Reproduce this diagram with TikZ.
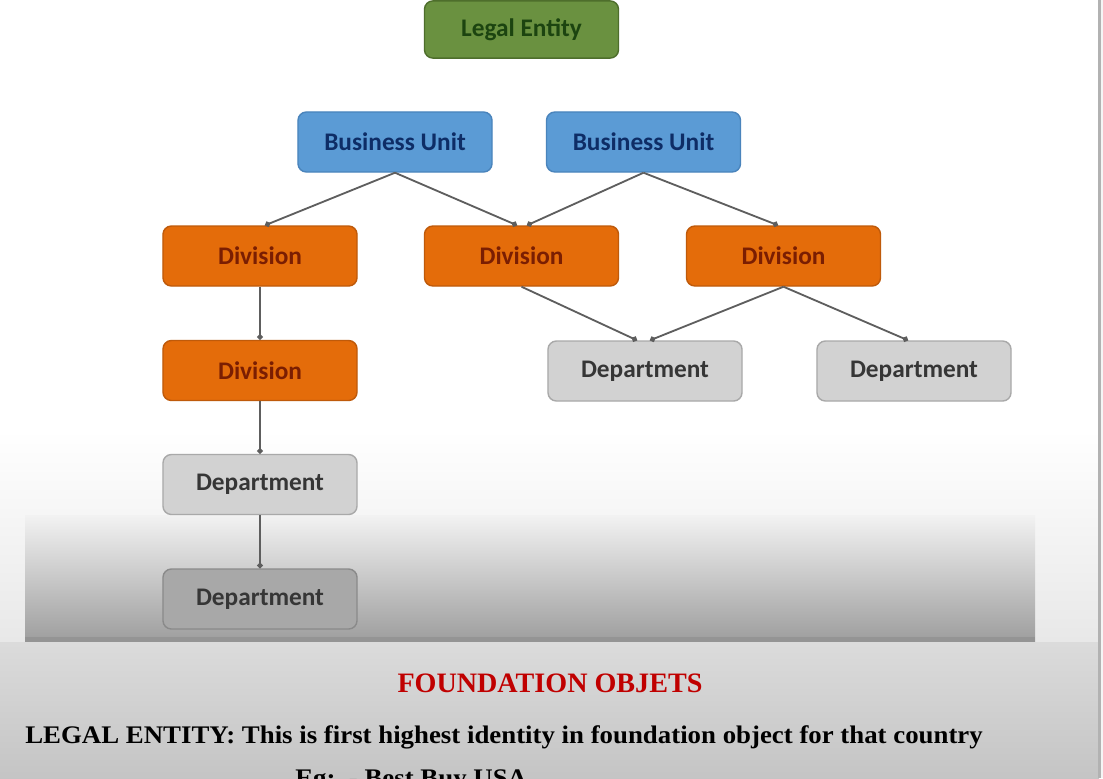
\documentclass[tikz,border=0pt]{standalone}
\usepackage{fontspec}
\setmainfont{Carlito}
\newfontfamily\slab{Liberation Serif}
\usetikzlibrary{arrows.meta,calc}
\definecolor{gfill}{HTML}{6A9140}
\definecolor{gline}{HTML}{4E6E2C}
\definecolor{gtext}{HTML}{1C4410}
\definecolor{bfill}{HTML}{5B9BD5}
\definecolor{bline}{HTML}{4A84BC}
\definecolor{btext}{HTML}{0E2D66}
\definecolor{ofill}{HTML}{E46C0A}
\definecolor{oline}{HTML}{BF5A0A}
\definecolor{otext}{HTML}{7A1E02}
\definecolor{dfill}{HTML}{D2D2D2}
\definecolor{dline}{HTML}{A9A9A9}
\definecolor{dtext}{HTML}{363636}
\definecolor{dkfill}{HTML}{A8A8A8}
\definecolor{dkline}{HTML}{8A8A8A}
\definecolor{conn}{HTML}{5E5E5E}
\definecolor{titlered}{HTML}{C00000}
\tikzset{
  box/.style={rounded corners=6pt, line width=1pt, minimum width=4.85cm, minimum height=1.5cm, inner sep=0pt, font=\bfseries\fontsize{18}{20}\selectfont},
  legalbox/.style={box, fill=gfill, draw=gline, text=gtext},
  bubox/.style={box, fill=bfill, draw=bline, text=btext},
  divbox/.style={box, fill=ofill, draw=oline, text=otext},
  deptbox/.style={box, fill=dfill, draw=dline, text=dtext},
  deptdark/.style={box, fill=dkfill, draw=dkline, text=dtext},
  link/.style={draw=conn, line width=1.3pt, -{Circle[length=4pt]}},
  slabtext/.style={font=\slab\bfseries\fontsize{18}{20}\selectfont, inner sep=0pt}
}
\begin{document}
\begin{tikzpicture}[x=0.025cm, y=-0.025cm]
\useasboundingbox (0,0) rectangle (1103,778);
\clip (0,0) rectangle (1103,778);
% background
\fill[white] (0,0) rectangle (1103,778);
\shade[top color=white, bottom color=black!9] (0,430) rectangle (1099,641);
\shade[top color=black!5, bottom color=black!38] (25,515) rectangle (1035,641);
\fill[black!42] (25,637) rectangle (1035,642);
\shade[top color=black!14, bottom color=black!23] (0,642) rectangle (1099,778);
\fill[black!30] (1098,0) rectangle (1101,778);
\fill[black!4] (1101,0) rectangle (1103,778);

% nodes
\node[legalbox, minimum height=1.43cm] (le) at (521.5,29.5) {Legal Entity};
\node[bubox] (bu1) at (395,142) {Business Unit};
\node[bubox] (bu2) at (643.5,142) {Business Unit};
\node[divbox] (d1) at (260,256) {Division};
\node[divbox] (d2) at (521.5,256) {Division};
\node[divbox] (d3) at (783.5,256) {Division};
\node[divbox] (d4) at (260,370.5) {Division};
\node[deptbox] (pm) at (645,371) {Department};
\node[deptbox] (pr) at (914,371) {Department};
\node[deptbox] (p1) at (260,484.5) {Department};
\node[deptdark] (p2) at (260,599) {Department};

% connectors
\draw[link] (bu1.south) -- ($(d1.north)+(5,0)$);
\draw[link] (bu1.south) -- ($(d2.north)+(-4.5,0)$);
\draw[link] (bu2.south) -- ($(d2.north)+(5.5,0)$);
\draw[link] (bu2.south) -- ($(d3.north)+(-5.5,0)$);
\draw[link] (d1.south) -- (d4.north);
\draw[link] (d2.south) -- ($(pm.north)+(-8,0)$);
\draw[link] (d3.south) -- ($(pm.north)+(5,0)$);
\draw[link] (d3.south) -- ($(pr.north)+(-6,0)$);
\draw[link] (d4.south) -- (p1.north);
\draw[link] (p1.south) -- (p2.north);

% texts
\node[font=\slab\bfseries\fontsize{20}{22}\selectfont, text=titlered, anchor=base, inner sep=0pt] (title) at (550,692) {FOUNDATION OBJETS};
\node[slabtext, anchor=base west] (def) at (25,743) {\scalebox{1.06}[1]{LEGAL ENTITY: This is first highest identity in foundation object for that country}};
\node[slabtext, anchor=base west] (eg) at (295,786) {\scalebox{1.06}[1]{Eg:\ \ - Best Buy USA}};
\end{tikzpicture}
\end{document}
